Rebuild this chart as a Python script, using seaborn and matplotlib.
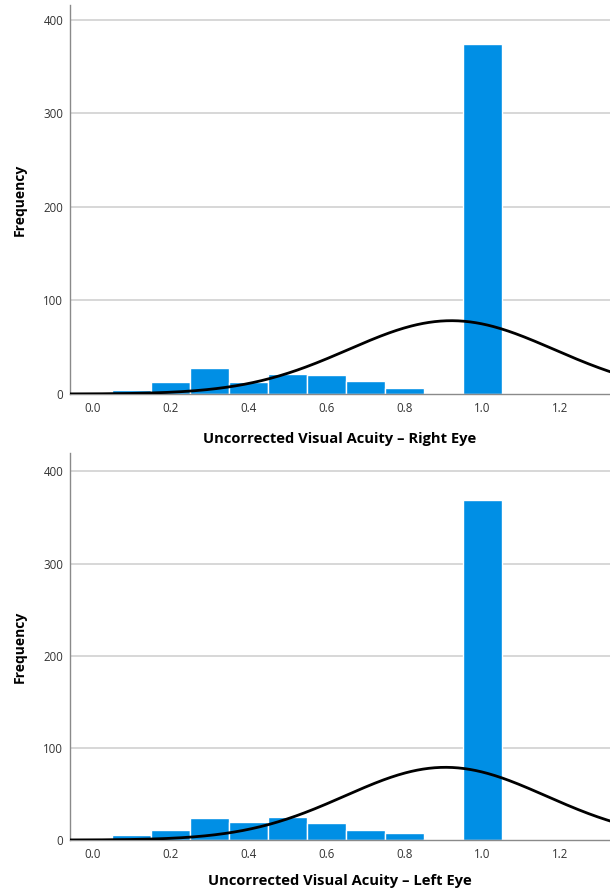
import numpy as np
import matplotlib
matplotlib.use("Agg")
import matplotlib.pyplot as plt
import seaborn as sns

# visual acuity bins (centre of each bin) and frequencies
acuity_levels = [0.1, 0.2, 0.3, 0.4, 0.5, 0.6, 0.7, 0.8, 0.9, 1.0]
right_counts = [4, 13, 28, 13, 21, 20, 14, 6, 0, 374]
left_counts = [5, 11, 24, 20, 25, 19, 11, 8, 1, 369]
# normal curve overlaid on each histogram: mean, sd, peak height
right_curve = [0.92, 0.264, 78.4]
left_curve = [0.905, 0.258, 78.9]
x_ticks = [0.0, 0.2, 0.4, 0.6, 0.8, 1.0, 1.2]
y_ticks = [0, 100, 200, 300, 400]

sns.set_style("white")
plt.rcParams['font.family'] = ['Open Sans', 'DejaVu Sans']

bar_color = "#008fe5"
grid_color = "#d4d4d4"
text_color = "#333333"

fig = plt.figure(figsize=(6.1, 8.91), dpi=100)
ax_top = fig.add_axes([0.1148, 0.5578, 0.8852, 0.4366])
ax_bot = fig.add_axes([0.1148, 0.0572, 0.8852, 0.4344])


def draw_panel(ax, counts, curve, label, ymax, pad):
    sns.histplot(x=acuity_levels, weights=counts, bins=10, binrange=(0.05, 1.05), ax=ax,
                 color=bar_color, edgecolor="white", linewidth=1.0, alpha=1, zorder=2)
    mu, sd, peak = curve
    xs = np.linspace(-0.1, 1.4, 400)
    ys = peak * np.exp(-0.5 * ((xs - mu) / sd) ** 2)
    ax.plot(xs, ys, color="black", lw=2.0, zorder=3, solid_capstyle="butt")

    ax.set_xlim(-0.058, 1.327)
    ax.set_ylim(0, ymax)
    ax.set_xticks(x_ticks)
    ax.set_xticklabels([f"{t:.1f}" for t in x_ticks])
    ax.set_yticks(y_ticks)
    for t in y_ticks[1:]:
        ax.axhline(t, color=grid_color, lw=1.3, zorder=1)
    ax.tick_params(axis="both", length=0, labelsize=8.3, labelcolor=text_color)
    ax.tick_params(axis="x", pad=6)
    ax.tick_params(axis="y", pad=5)
    ax.set_xlabel(label, fontsize=10.6, fontweight="bold", color="black", labelpad=pad)
    ax.set_ylabel("Frequency", fontsize=10, fontweight="bold", color="black", labelpad=12)
    for side in ["top", "right"]:
        ax.spines[side].set_visible(False)
    for side in ["left", "bottom"]:
        ax.spines[side].set_color("#8a8a8a")
        ax.spines[side].set_linewidth(1.0)


draw_panel(ax_top, right_counts, right_curve, "Uncorrected Visual Acuity – Right Eye", 416, 12)
draw_panel(ax_bot, left_counts, left_curve, "Uncorrected Visual Acuity – Left Eye", 420, 9)

fig.savefig("out.png", dpi=100)
